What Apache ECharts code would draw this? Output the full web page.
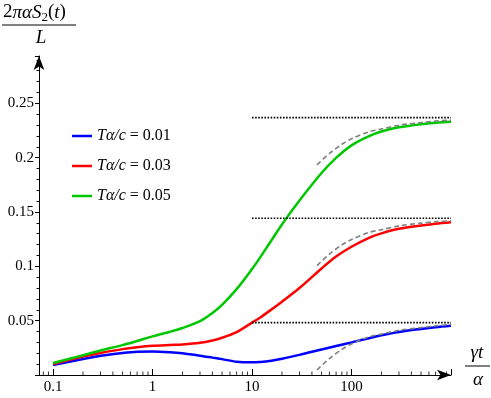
<!DOCTYPE html>
<html>
<head>
<meta charset="utf-8">
<script src="https://cdn.jsdelivr.net/npm/echarts@6/dist/echarts.min.js"></script>
<style>
html,body{margin:0;padding:0;background:#fff;}
#chart{width:491px;height:398px;}
</style>
</head>
<body>
<div id="chart"></div>
<script>
// ---- data ----
const tValues = [0.1,0.15,0.2,0.3,0.5,0.7,1,1.5,2,3,4,5,7,10,12,15,20,30,50,70,100,150,200,300,500,700,1000];
const blueValues  = [0.0092,0.0124,0.0147,0.0177,0.0203,0.0215,0.0217,0.0210,0.0200,0.0178,0.0160,0.0146,0.0122,0.0117,0.0120,0.0128,0.0150,0.0185,0.0235,0.0267,0.0300,0.0338,0.0365,0.0396,0.0424,0.0440,0.0453];
const redValues   = [0.0100,0.0142,0.0170,0.0202,0.0238,0.0255,0.0268,0.0276,0.0281,0.0296,0.0318,0.0343,0.0395,0.0482,0.0527,0.0590,0.0675,0.0800,0.0980,0.1090,0.1180,0.1262,0.1303,0.1345,0.1376,0.1392,0.1405];
const greenValues = [0.0110,0.0152,0.0182,0.0225,0.0275,0.0313,0.0355,0.0398,0.0432,0.0495,0.0570,0.0645,0.0790,0.0975,0.1078,0.1212,0.1385,0.1605,0.1858,0.1997,0.2113,0.2198,0.2240,0.2279,0.2308,0.2320,0.2330];

const asymT = [45,60,80,100,150,200,300,500,700,1000];
const asymTop = [0.1933,0.2038,0.2123,0.2173,0.2238,0.2263,0.2298,0.2323,0.2336,0.2345];
const asymMid = [0.1007,0.1112,0.1197,0.1247,0.1312,0.1337,0.1372,0.1397,0.1410,0.1419];
const asymBot = [0.0046,0.0151,0.0236,0.0286,0.0351,0.0376,0.0411,0.0436,0.0452,0.0466];

const plateauLevels = [0.0481, 0.1442, 0.2368];
const plateauRange = [10, 1000];

const seriesNames = ['Tα/c = 0.01', 'Tα/c = 0.03', 'Tα/c = 0.05'];
const seriesColors = ['#0000ff', '#ff0000', '#00c800'];

const xMajorLabels = [0.1, 1, 10, 100];
const xMinorTicks = [0.08,0.09,0.2,0.3,0.4,0.5,0.6,0.7,0.8,0.9,2,3,4,5,6,7,8,9,20,30,40,50,60,70,80,90,200,300,400,500,600,700,800,900];
const yTickLabels = [0.05, 0.1, 0.15, 0.2, 0.25];

// ---- build chart ----
const chart = echarts.init(document.getElementById('chart'), null, {renderer: 'canvas'});
const pair = (xs, ys) => xs.map((x, i) => [x, ys[i]]);
const serif = "'Liberation Serif', 'DejaVu Serif', serif";

const curveSeries = [blueValues, redValues, greenValues].map((vals, i) => ({
  name: seriesNames[i], type: 'line', data: pair(tValues, vals),
  smooth: 0.3, symbol: 'none', z: 3 + i,
  lineStyle: {color: seriesColors[i], width: 2.5}, itemStyle: {color: seriesColors[i]}
}));

const asymSeries = [asymBot, asymMid, asymTop].map(vals => ({
  type: 'line', data: pair(asymT, vals), smooth: 0.3, symbol: 'none', z: 8, silent: true,
  lineStyle: {color: '#808080', width: 1.6, type: [5, 3]}
}));

const plateauSeries = plateauLevels.map(v => ({
  type: 'line', data: plateauRange.map(x => [x, v]), symbol: 'none', z: 9, silent: true,
  lineStyle: {color: '#000', width: 1.7, type: [1.6, 1.5]}
}));

const minorTickSeries = {
  type: 'scatter', data: xMinorTicks.map(x => [x, 0]), symbol: 'rect',
  symbolSize: [1, 3.5], symbolOffset: [0, -1.75], z: 10, silent: true,
  itemStyle: {color: '#000'}
};

const fmtY = v => {
  const r = +v.toFixed(3);
  return yTickLabels.includes(r) ? String(r) : '';
};
const fmtX = v => {
  const r = +Number(v).toPrecision(3);
  return xMajorLabels.includes(r) ? String(r) : '';
};

chart.setOption({
  animation: false,
  backgroundColor: '#fff',
  grid: {left: 39, right: 40, top: 56, bottom: 23, containLabel: false},
  legend: {
    data: seriesNames, orient: 'vertical', left: 67, top: 121,
    itemWidth: 20, itemHeight: 2.5, itemGap: 10, icon: 'rect',
    textStyle: {fontFamily: serif, fontSize: 16, color: '#000', lineHeight: 20,
      rich: {i: {fontFamily: serif, fontStyle: 'italic', fontSize: 16, color: '#000'},
             n: {fontFamily: serif, fontSize: 16, color: '#000'}}},
    formatter: name => {
      const p = name.split(' = ');
      return '{i|' + p[0] + '}{n| = ' + p[1] + '}';
    }
  },
  xAxis: {
    type: 'log', logBase: 10, min: 0.0723, max: 1000,
    axisLine: {show: true, onZero: false, symbol: ['none', 'arrow'], symbolSize: [8, 14],
      lineStyle: {color: '#000', width: 1}},
    axisTick: {show: true, inside: true, length: 6, lineStyle: {color: '#000'}},
    minorTick: {show: false},
    splitLine: {show: false},
    axisLabel: {formatter: fmtX, color: '#000', fontFamily: serif, fontSize: 15, margin: 5,
      showMinLabel: true, showMaxLabel: true, hideOverlap: false}
  },
  yAxis: {
    type: 'value', min: 0, max: 0.2935, interval: 0.05,
    axisLine: {show: true, onZero: false, symbol: ['none', 'arrow'], symbolSize: [8, 14],
      lineStyle: {color: '#000', width: 1}},
    axisTick: {show: true, inside: false, length: 4, lineStyle: {color: '#000'}},
    minorTick: {show: true, splitNumber: 5, length: 2.5, lineStyle: {color: '#000'}},
    splitLine: {show: false},
    axisLabel: {formatter: fmtY, color: '#000', fontFamily: serif, fontSize: 15, margin: 5}
  },
  graphic: [
    {type: 'text', left: 3, top: 3, style: {
      text: '{n|2}{i|παS}{s|2}{n|(}{i|t}{n|)}',
      rich: {n: {fontFamily: serif, fontSize: 19, fill: '#000'},
             i: {fontFamily: serif, fontSize: 19, fontStyle: 'italic', fill: '#000'},
             s: {fontFamily: serif, fontSize: 13, fill: '#000', verticalAlign: 'bottom', padding: [10, 0, 0, 0]}}}},
    {type: 'line', shape: {x1: 2, y1: 25, x2: 76, y2: 25}, style: {stroke: '#000', lineWidth: 1}},
    {type: 'text', x: 41, y: 38, style: {text: 'L', fontFamily: serif, fontSize: 19, fontStyle: 'italic',
      fill: '#000', align: 'center', verticalAlign: 'middle'}},
    {type: 'text', x: 477, y: 353, style: {text: 'γt', fontFamily: serif, fontSize: 19, fontStyle: 'italic',
      fill: '#000', align: 'center', verticalAlign: 'middle'}},
    {type: 'line', shape: {x1: 465, y1: 366, x2: 490, y2: 366}, style: {stroke: '#000', lineWidth: 1}},
    {type: 'text', x: 478, y: 380, style: {text: 'α', fontFamily: serif, fontSize: 19, fontStyle: 'italic',
      fill: '#000', align: 'center', verticalAlign: 'middle'}}
  ],
  series: [...curveSeries, ...asymSeries, ...plateauSeries, minorTickSeries]
});
</script>
</body>
</html>
